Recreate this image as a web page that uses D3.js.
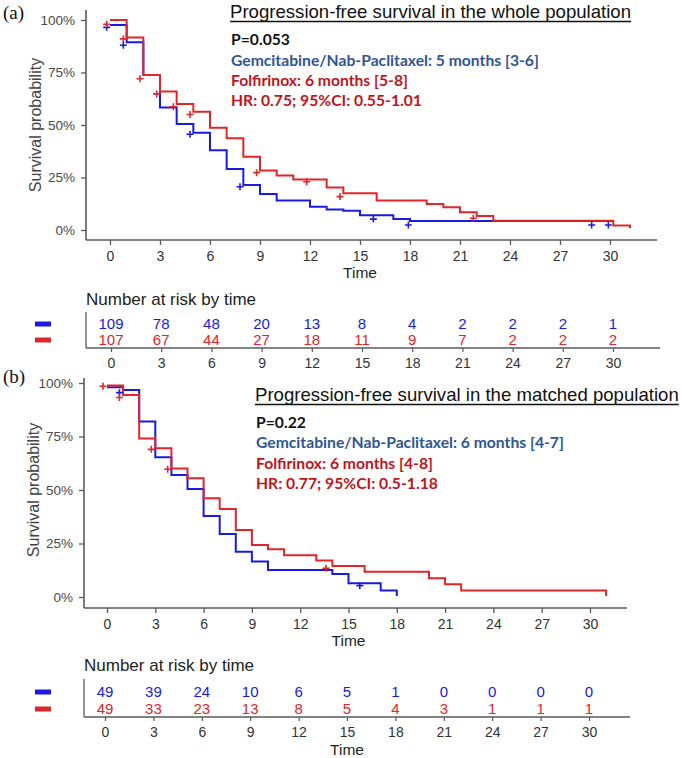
<!DOCTYPE html>
<html><head><meta charset="utf-8">
<script src="https://cdn.jsdelivr.net/npm/d3@7"></script>
<style>body{margin:0;background:#fff}svg{display:block}</style>
</head><body>
<svg id="c" width="682" height="758"></svg>
<script>
// ---------- DATA ----------
const timeTicks = [0,3,6,9,12,15,18,21,24,27,30];
const yTicks = [0,0.25,0.5,0.75,1];
const yTickLabels = ["0%","25%","50%","75%","100%"];

// Panel (a) whole population
const aTitle = "Progression-free survival in the whole population";
const aStats = ["P=0.053","Gemcitabine/Nab-Paclitaxel: 5 months [3-6]","Folfirinox: 6 months [5-8]","HR: 0.75; 95%CI: 0.55-1.01"];
const aBlueT = [0,1,2,3,4,5,6,7,8,9,10,12,13,14,15,17,18,30.2];
const aBlueS = [0.976,0.894,0.738,0.583,0.505,0.463,0.38,0.29,0.214,0.171,0.14,0.111,0.098,0.092,0.07,0.052,0.043,0.043];
const aRedT = [0,1,2,3,4,5,6,7,8,9,10,11,13,14,16,19,20,21,22,23,30.2,31.2];
const aRedS = [1.0,0.917,0.738,0.659,0.60,0.563,0.487,0.437,0.349,0.283,0.259,0.241,0.202,0.175,0.14,0.124,0.108,0.084,0.067,0.044,0.021,0.008];
const aBlueCensT = [-0.2,0.8,4.8,7.8,15.8,17.9,28.9,29.9];
const aBlueCensS = [0.965,0.88,0.456,0.206,0.052,0.024,0.024,0.024];
const aRedCensT = [-0.2,0.8,1.8,2.8,3.8,4.8,8.8,11.8,13.8,21.8];
const aRedCensS = [0.98,0.91,0.72,0.648,0.587,0.55,0.273,0.23,0.159,0.056];
const aRiskBlue = [109,78,48,20,13,8,4,2,2,2,1];
const aRiskRed = [107,67,44,27,18,11,9,7,2,2,2];

// Panel (b) matched population
const bTitle = "Progression-free survival in the matched population";
const bStats = ["P=0.22","Gemcitabine/Nab-Paclitaxel: 6 months [4-7]","Folfirinox: 6 months [4-8]","HR: 0.77; 95%CI: 0.5-1.18"];
const bBlueT = [0,1,2,3,4,5,6,7,8,9,10,14,15,17,18];
const bBlueS = [0.98,0.967,0.82,0.653,0.57,0.505,0.379,0.294,0.212,0.166,0.126,0.108,0.064,0.03,0.005];
const bRedT = [0,1,2,3,4,5,6,7,8,9,10,11,13,14,16,20,21,22,31];
const bRedS = [0.988,0.944,0.741,0.695,0.601,0.555,0.461,0.411,0.313,0.243,0.223,0.195,0.17,0.145,0.118,0.088,0.059,0.03,0.005];
const bBlueCensT = [0.77,15.7];
const bBlueCensS = [0.955,0.053];
const bRedCensT = [-0.25,0.77,2.75,3.77,13.6];
const bRedCensS = [0.985,0.932,0.69,0.597,0.134];
const bRiskBlue = [49,39,24,10,6,5,1,0,0,0,0];
const bRiskRed = [49,33,23,13,8,5,4,3,1,1,1];

// ---------- STYLE ----------
const BLUE = "#1a1ae6", RED = "#e0262b";
const TBLUE = "#2f5597", TRED = "#c0141c";
const AX = "#5a5a5a";
const SANS = "'Liberation Sans', Arial, sans-serif";
const STAT = "Lato, 'Open Sans', sans-serif";

const svg = d3.select("#c");

function panel(cfg){
  const g = svg.append("g");
  const x = d3.scaleLinear().domain([0,30]).range(cfg.xr);
  const y = d3.scaleLinear().domain([0,1]).range(cfg.yr);

  // axes lines
  g.append("line").attr("x1",cfg.axX).attr("x2",cfg.axX).attr("y1",cfg.axTop).attr("y2",cfg.axY)
    .attr("stroke",AX).attr("stroke-width",1.6);
  g.append("line").attr("x1",cfg.axX).attr("x2",cfg.axRight).attr("y1",cfg.axY).attr("y2",cfg.axY)
    .attr("stroke",AX).attr("stroke-width",1.6);

  // y ticks
  const ya = d3.axisLeft(y).tickValues(yTicks).tickFormat((d,i)=>yTickLabels[i]).tickSize(5).tickSizeOuter(0);
  const yg = g.append("g").attr("transform",`translate(${cfg.axX},0)`).call(ya);
  yg.select(".domain").remove();
  yg.selectAll("line").attr("stroke",AX).attr("stroke-width",1.3);
  yg.selectAll("text").attr("font-family",SANS).attr("font-size",13.5).attr("fill","#4a4a4a").attr("x",-11);

  // x ticks
  const xa = d3.axisBottom(x).tickValues(timeTicks).tickSize(5).tickSizeOuter(0);
  const xg = g.append("g").attr("transform",`translate(0,${cfg.axY})`).call(xa);
  xg.select(".domain").remove();
  xg.selectAll("line").attr("stroke",AX).attr("stroke-width",1.3);
  xg.selectAll("text").attr("font-family",SANS).attr("font-size",14).attr("fill","#333").attr("dy","0.9em");

  g.append("text").attr("x",(cfg.xr[0]+cfg.xr[1])/2).attr("y",cfg.axY+38).attr("text-anchor","middle")
    .attr("font-family",SANS).attr("font-size",15.5).attr("fill","#222").text("Time");
  g.append("text").attr("transform",`translate(${cfg.ylabX},${(cfg.yr[0]+cfg.yr[1])/2}) rotate(-90)`)
    .attr("text-anchor","middle").attr("font-family",SANS).attr("font-size",16).attr("fill","#444")
    .text("Survival probability");

  // curves
  const line = d3.line().x(d=>x(d[0])).y(d=>y(d[1])).curve(d3.curveStepAfter);
  const series = [
    {t:cfg.blueT,s:cfg.blueS,c:BLUE,ct:cfg.blueCT,cs:cfg.blueCS},
    {t:cfg.redT,s:cfg.redS,c:RED,ct:cfg.redCT,cs:cfg.redCS}
  ];
  series.forEach(sr=>{
    const pts = sr.t.map((t,i)=>[t,sr.s[i]]);
    g.append("path").attr("d",line(pts)).attr("fill","none").attr("stroke",sr.c).attr("stroke-width",2);
  });
  series.forEach(sr=>{
    sr.ct.forEach((t,i)=>{
      const cx=x(t), cy=y(sr.cs[i]);
      g.append("path").attr("d",`M${cx-3.5},${cy}H${cx+3.5}M${cx},${cy-3.5}V${cy+3.5}`)
        .attr("stroke",sr.c).attr("stroke-width",1.6);
    });
  });

  // title & stats
  const tt = g.append("text").attr("x",cfg.titleX).attr("y",cfg.titleY).attr("font-family",SANS)
    .attr("font-size",18.6).attr("fill","#111").text(cfg.title);
  const tw = tt.node().getComputedTextLength();
  g.append("line").attr("x1",cfg.titleX).attr("x2",cfg.titleX+tw).attr("y1",cfg.titleY+3.5).attr("y2",cfg.titleY+3.5)
    .attr("stroke","#111").attr("stroke-width",1.3);
  const cols = ["#111",TBLUE,TRED,TRED];
  cfg.stats.forEach((s,i)=>{
    g.append("text").attr("x",cfg.titleX+1).attr("y",cfg.statY[i]).attr("font-family",STAT)
      .attr("font-weight",700).attr("font-size",15.7).attr("fill",cols[i]).text(s);
  });

  // panel letter
  g.append("text").attr("x",3).attr("y",cfg.letterY).attr("font-family","'Liberation Serif', 'Times New Roman', serif")
    .attr("font-size",19).attr("fill","#111").text(cfg.letter);

  // risk table
  const xr = d3.scaleLinear().domain([0,30]).range(cfg.rxr);
  g.append("text").attr("x",cfg.axX).attr("y",cfg.rTitleY).attr("font-family",SANS).attr("font-size",17)
    .attr("fill","#222").text("Number at risk by time");
  g.append("line").attr("x1",cfg.axX).attr("x2",cfg.axX).attr("y1",cfg.rTop).attr("y2",cfg.rAxY)
    .attr("stroke",AX).attr("stroke-width",1.3);
  g.append("line").attr("x1",cfg.axX).attr("x2",cfg.rRight).attr("y1",cfg.rAxY).attr("y2",cfg.rAxY)
    .attr("stroke",AX).attr("stroke-width",1.6);
  const ra = d3.axisBottom(xr).tickValues(timeTicks).tickSize(4).tickSizeOuter(0);
  const rg = g.append("g").attr("transform",`translate(0,${cfg.rAxY})`).call(ra);
  rg.select(".domain").remove();
  rg.selectAll("line").attr("stroke",AX).attr("stroke-width",1.2);
  rg.selectAll("text").attr("font-family",SANS).attr("font-size",14).attr("fill","#333").attr("dy","0.9em");
  [[cfg.riskBlue,BLUE,cfg.rBlueY],[cfg.riskRed,RED,cfg.rRedY]].forEach(([vals,c,yy])=>{
    g.selectAll(null).data(vals).enter().append("text")
      .attr("x",(d,i)=>xr(timeTicks[i])).attr("y",yy).attr("dy","0.36em").attr("text-anchor","middle")
      .attr("font-family",SANS).attr("font-size",15).attr("fill",c).text(d=>d);
    g.append("rect").attr("x",35).attr("y",yy-2.5).attr("width",16).attr("height",5).attr("fill",c);
  });
  if(cfg.rTimeY){
    g.append("text").attr("x",(cfg.rxr[0]+cfg.rxr[1])/2).attr("y",cfg.rTimeY).attr("text-anchor","middle")
      .attr("font-family",SANS).attr("font-size",15.5).attr("fill","#222").text("Time");
  }
}

panel({
  xr:[110,610], yr:[230,20], axX:86, axTop:10, axY:240, axRight:657, ylabX:41,
  blueT:aBlueT, blueS:aBlueS, redT:aRedT, redS:aRedS,
  blueCT:aBlueCensT, blueCS:aBlueCensS, redCT:aRedCensT, redCS:aRedCensS,
  title:aTitle, titleX:230, titleY:18, stats:aStats, statY:[45,66,86,106],
  letter:"(a)", letterY:19,
  rxr:[111,613], rTitleY:305, rTop:312, rAxY:348, rRight:660, rBlueY:324, rRedY:340,
  riskBlue:aRiskBlue, riskRed:aRiskRed, rTimeY:null
});
panel({
  xr:[107,590], yr:[597,383], axX:84, axTop:378, axY:608, axRight:627, ylabX:39,
  blueT:bBlueT, blueS:bBlueS, redT:bRedT, redS:bRedS,
  blueCT:bBlueCensT, blueCS:bBlueCensS, redCT:bRedCensT, redCS:bRedCensS,
  title:bTitle, titleX:255, titleY:401, stats:bStats, statY:[428,448,469,489],
  letter:"(b)", letterY:383,
  rxr:[105,589], rTitleY:671, rTop:679, rAxY:717, rRight:630, rBlueY:692, rRedY:709,
  riskBlue:bRiskBlue, riskRed:bRiskRed, rTimeY:755
});
</script>
</body></html>
